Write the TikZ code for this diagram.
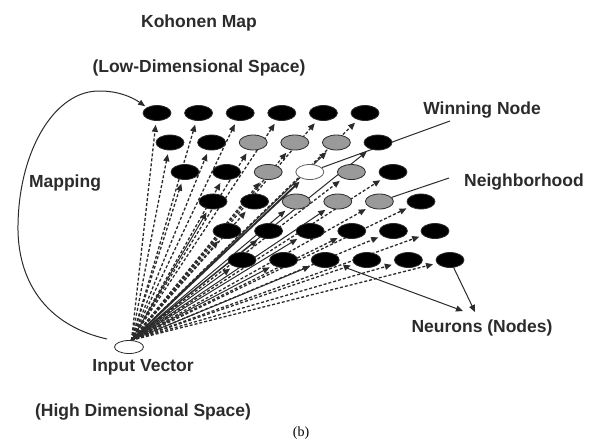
\documentclass[tikz,border=0pt]{standalone}
\usepackage{fontspec}
\setmainfont{Liberation Sans}
\newfontfamily\serifb{Liberation Serif}
\usetikzlibrary{shapes.geometric,arrows.meta}
\pgfdeclarelayer{back}
\pgfdeclarelayer{bg}
\pgfsetlayers{back,bg,main}
\definecolor{ln}{HTML}{2B2B2B}
\definecolor{nbr}{HTML}{9A9A9A}
\begin{document}
\begin{tikzpicture}[x=1pt,y=-1pt,
  neuron/.style={ellipse,draw=ln,line width=0.8pt,fill=black,minimum width=28pt,minimum height=15pt,inner sep=0pt},
  nbrnode/.style={fill=nbr},
  winnode/.style={fill=white,draw=ln!75},
  s23/.style={nbrnode},s24/.style={nbrnode},s25/.style={nbrnode},
  s33/.style={nbrnode},s34/.style={winnode},s35/.style={nbrnode},
  s43/.style={nbrnode},s44/.style={nbrnode},s45/.style={nbrnode},
  lbl/.style={font=\fontsize{17.5}{20}\selectfont\bfseries,text=ln,inner sep=0pt},
  darr/.style={draw=ln,line width=1.3pt,dash pattern=on 3pt off 2pt,-{Triangle[length=7pt,width=6pt]},shorten >=4pt},
  sarr/.style={draw=ln,line width=1pt,-{Triangle[length=7pt,width=6pt]},shorten >=4pt},
  tarr/.style={sarr,line width=1.9pt},
  pline/.style={draw=ln,line width=1pt},
]
\useasboundingbox (0,0) rectangle (599,445);
\begin{pgfonlayer}{back}
\fill[white] (0,0) rectangle (599,445);
\end{pgfonlayer}

% neuron grid
\foreach \r/\y/\x in {1/113/157,2/142.5/170,3/172/185,4/201.5/213,5/231/227,6/260/242}{
  \foreach \c in {1,...,6}{
    \node[neuron,s\r\c/.try] (n\r\c) at ({\x+(\c-1)*41.6},\y) {};
  }
}

% input vector
\node[ellipse,draw=ln,line width=0.8pt,fill=white,minimum width=29pt,minimum height=13pt,inner sep=0pt] (inp) at (129,347) {};

% labels
\node[lbl] (tkoh) at (199,23) {Kohonen Map};
\node[lbl] (tlow) at (199,68) {(Low-Dimensional Space)};
\node[lbl] (tmap) at (65,183) {Mapping};
\node[lbl] (twin) at (482,110) {Winning Node};
\node[lbl] (tnbr) at (524,182) {Neighborhood};
\node[lbl] (tneu) at (482,328) {Neurons (Nodes)};
\node[lbl] (tinp) at (143,367) {Input Vector};
\node[lbl] (thigh) at (143,412) {(High Dimensional Space)};
\node[font=\serifb\fontsize{14}{16}\selectfont,inner sep=0pt] (tb) at (301,433) {(b)};

\coordinate (mapS) at (107,339);
\coordinate (wnend) at (450,121);
\coordinate (nbend) at (449,178);
\coordinate (neuA) at (475,312);
\coordinate (neuB) at (463,311);
\coordinate (nA) at (344,267);

\begin{pgfonlayer}{bg}
  \foreach \n in {11,12,13,14,15,16,21,22,23,24,31,32,33,35,36,42,45,46,51,54,55,56,64,65,66}
    \draw[darr] (inp.70) -- (n\n);
  \foreach \n in {25,26,41,43,44,52,53,61,62,63}
    \draw[sarr] (inp.70) -- (n\n);
  \draw[tarr] (inp.70) -- (n34);
  \draw[pline] (n34) -- (wnend);
  \draw[pline] (n45) -- (nbend);
\end{pgfonlayer}

\draw[pline,-{Triangle[length=7pt,width=6pt]}] (n66) -- (neuA);
\draw[pline,-{Triangle[length=7pt,width=6pt]}] (nA) -- (neuB);
\draw[pline,-{Triangle[length=7pt,width=5.5pt]},shorten >=2pt] (mapS) .. controls (45,325) and (17,280) .. (18,225)
  .. controls (19,150) and (55,90) .. (100,91)
  .. controls (118,91) and (132,97) .. (n11.north west);
\end{tikzpicture}
\end{document}
